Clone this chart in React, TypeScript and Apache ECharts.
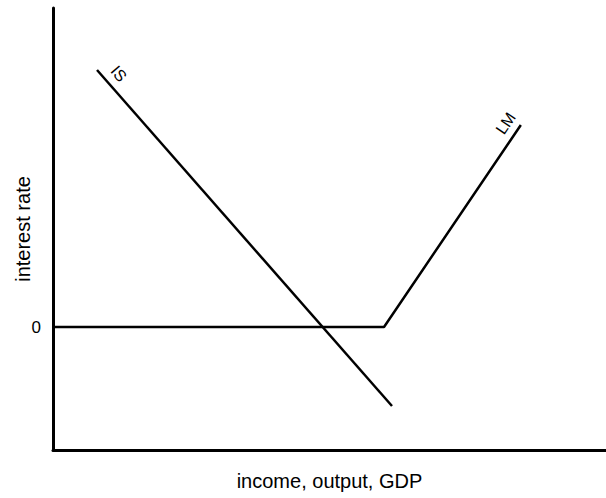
import React, { useEffect, useRef } from "react";
import * as echarts from "echarts";

const isCurve: [number, number][] = [
  [7.96, 2.57],
  [61.3, -0.79],
];
const lmCurve: [number, number][] = [
  [0, 0],
  [59.86, 0],
  [84.6, 2.02],
];
const yTickValues = [0];
const xAxisTitle = "income, output, GDP";
const yAxisTitle = "interest rate";

export default function App() {
  const ref = useRef<HTMLDivElement>(null);
  useEffect(() => {
    if (!ref.current) return;
    const chart = echarts.init(ref.current, null, { renderer: "svg" });
    const font = "Liberation Sans, Arial, Helvetica, sans-serif";
    const labelStyle = {
      show: true,
      position: "inside",
      color: "#000",
      fontSize: 16,
      fontFamily: font,
    };
    chart.setOption({
      animation: false,
      grid: { left: 53, right: 0, top: 8, bottom: 48, containLabel: false, outerBoundsMode: "none" },
      xAxis: {
        type: "value",
        min: 0,
        max: 100,
        name: xAxisTitle,
        nameLocation: "middle",
        nameGap: 21,
        nameMoveOverlap: false,
        nameTextStyle: { color: "#000", fontSize: 20, fontFamily: font },
        axisLine: { show: true, onZero: false, lineStyle: { color: "#000", width: 3 } },
        axisTick: { show: false },
        axisLabel: { show: false },
        splitLine: { show: false },
      },
      yAxis: {
        type: "value",
        min: -1.23,
        max: 3.19,
        name: yAxisTitle,
        nameLocation: "middle",
        nameGap: 20,
        nameMoveOverlap: false,
        nameTextStyle: { color: "#000", fontSize: 20, fontFamily: font },
        axisLine: { show: true, onZero: false, lineStyle: { color: "#000", width: 3 } },
        axisTick: { show: false },
        axisLabel: {
          show: true,
          customValues: yTickValues,
          formatter: (v: number) => String(v),
          color: "#000",
          fontSize: 17,
          fontFamily: font,
          margin: 12,
        },
        splitLine: { show: false },
      },
      series: [
        {
          type: "line",
          data: isCurve.map((p, i) =>
            i === 0
              ? {
                  value: p,
                  label: { ...labelStyle, formatter: "IS", rotate: -49, offset: [17, -14] },
                }
              : { value: p }
          ),
          showSymbol: true,
          symbol: "circle",
          symbolSize: 0,
          lineStyle: { color: "#000", width: 2.5 },
          itemStyle: { color: "#000" },
        },
        {
          type: "line",
          data: lmCurve.map((p, i) =>
            i === lmCurve.length - 1
              ? {
                  value: p,
                  label: { ...labelStyle, formatter: "LM", rotate: 56, offset: [-7, -13.5] },
                }
              : { value: p }
          ),
          showSymbol: true,
          symbol: "circle",
          symbolSize: 0,
          lineStyle: { color: "#000", width: 2.5 },
          itemStyle: { color: "#000" },
        },
      ],
    });
    return () => chart.dispose();
  }, []);
  return <div ref={ref} style={{ width: 606, height: 498, position: "absolute", left: 0, top: 0 }} />;
}
